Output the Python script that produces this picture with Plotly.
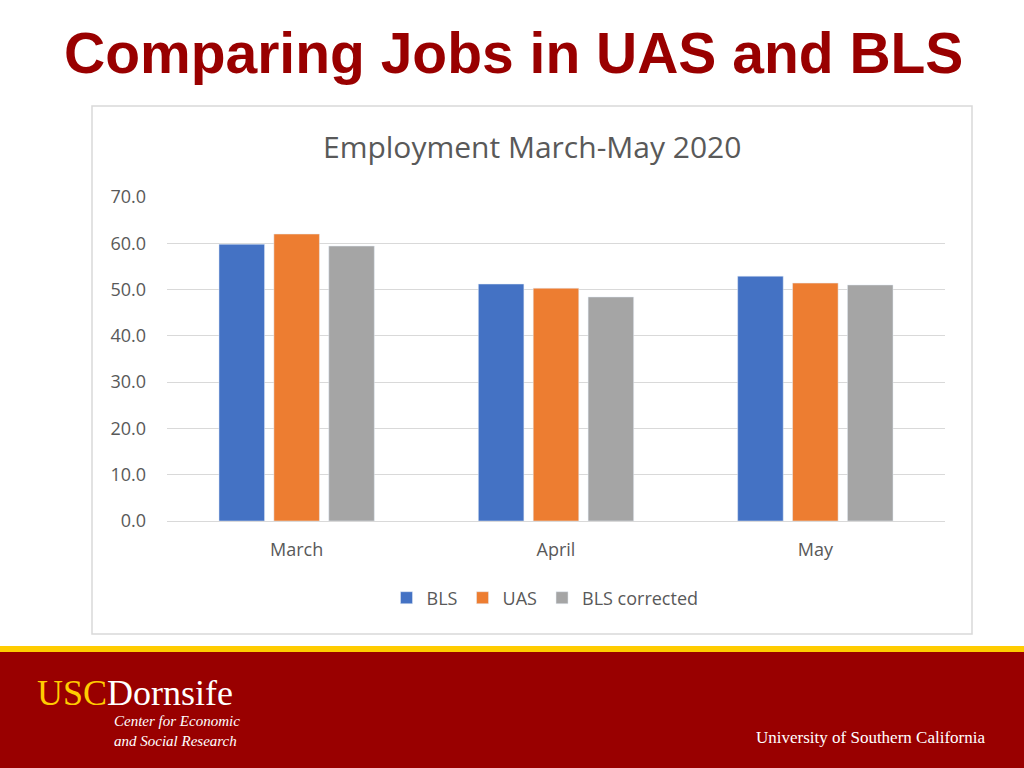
import plotly.graph_objects as go

categories = ["March", "April", "May"]
bls = [59.8, 51.2, 52.9]
uas = [62.0, 50.3, 51.4]
bls_corrected = [59.4, 48.4, 51.0]
y_ticks = [0, 10, 20, 30, 40, 50, 60, 70]
y_tick_labels = ["0.0", "10.0", "20.0", "30.0", "40.0", "50.0", "60.0", "70.0"]

L, R, T, B = 167, 945, 197, 521
W, H = R - L, B - T
def px(x): return (x - L) / W
def py(y): return (B - y) / H

fig = go.Figure()
fig.add_bar(x=categories, y=bls, name="BLS", marker_color="#4472C4")
fig.add_bar(x=categories, y=uas, name="UAS", marker_color="#ED7D31")
fig.add_bar(x=categories, y=bls_corrected, name="BLS corrected", marker_color="#A5A5A5")

grey = "#595959"
fig.update_layout(
    width=1024, height=768,
    margin=dict(l=L, r=1024 - R, t=T, b=768 - B, autoexpand=False),
    paper_bgcolor="white", plot_bgcolor="white",
    barmode="group", bargap=0.365, bargroupgap=0.17,
    font=dict(family="Open Sans, Calibri, sans-serif", color=grey, size=18),
    showlegend=True,
    legend=dict(orientation="h", x=px(545), xanchor="center", y=py(598), yanchor="middle",
                font=dict(size=18, color=grey), itemwidth=30, traceorder="normal"),
    xaxis=dict(showline=True, linecolor="#D9D9D9", ticks="", ticklabelstandoff=12,
               tickfont=dict(size=18, color=grey)),
    yaxis=dict(range=[0, 70], tickvals=y_ticks, ticktext=y_tick_labels,
               gridcolor="#D9D9D9", zeroline=False, showline=False,
               ticklabelstandoff=20, tickfont=dict(size=18, color=grey)),
)

shapes = [
    dict(type="rect", xref="paper", yref="paper", x0=px(92), x1=px(972), y0=py(634), y1=py(106),
         line=dict(color="#D9D9D9", width=1.5), fillcolor="rgba(0,0,0,0)", layer="below"),
    dict(type="rect", xref="paper", yref="paper", x0=px(0), x1=px(1024), y0=py(652), y1=py(646),
         line=dict(width=0), fillcolor="#FFCC00"),
    dict(type="rect", xref="paper", yref="paper", x0=px(0), x1=px(1024), y0=py(768), y1=py(652),
         line=dict(width=0), fillcolor="#990000"),
]
fig.update_layout(shapes=shapes)

ann = [
    dict(text="Employment March-May 2020", x=px(532), y=py(146), font=dict(size=30, color=grey)),
    dict(text="<b>Comparing Jobs in UAS and BLS</b>", x=px(62), y=py(53), xanchor="left",
         font=dict(family="Liberation Sans, Arial", size=57, color="#990000")),
    dict(text="<span style='color:#FFCC00'>USC</span>Dornsife", x=px(35), y=py(693), xanchor="left",
         font=dict(family="Liberation Serif, serif", size=36, color="white")),
    dict(text="<i>Center for Economic<br>and Social Research</i>", x=px(112), y=py(731), xanchor="left",
         align="left", font=dict(family="Liberation Serif, serif", size=15, color="white")),
    dict(text="University of Southern California", x=px(987), y=py(737), xanchor="right",
         font=dict(family="Liberation Serif, serif", size=17, color="white")),
]
for a in ann:
    a.update(xref="paper", yref="paper", showarrow=False, yanchor="middle")
    a.setdefault("xanchor", "center")
fig.update_layout(annotations=ann)

fig.write_html("out.html", config={"displayModeBar": False},
               post_script="document.body.style.margin='0';document.body.style.overflow='hidden';")
